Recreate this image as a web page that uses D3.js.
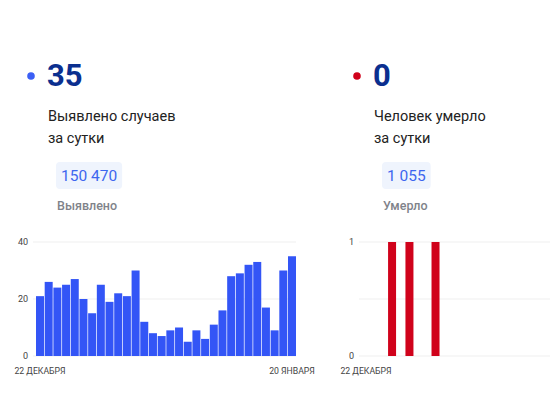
<!DOCTYPE html>
<html>
<head>
<meta charset="utf-8">
<script src="https://cdn.jsdelivr.net/npm/d3@7"></script>
<style>
  html, body { margin: 0; padding: 0; background: #fff; overflow: hidden; }
  svg { display: block; font-family: Roboto, "Noto Sans", sans-serif; }
</style>
</head>
<body>
<div id="chart"></div>
<script>
// Daily values, 22 Dec .. 20 Jan
const days = d3.range(30);
const caseValues = [21, 26, 24, 25, 27, 20, 15, 25, 19, 22, 21, 30, 12, 8, 7,
                    9, 10, 5, 9, 6, 11, 16, 28, 29, 32, 33, 17, 9, 30, 35];
const deathValues = [0, 0, 0, 1, 0, 1, 0, 0, 1, 0, 0, 0, 0, 0, 0,
                     0, 0, 0, 0, 0, 0, 0, 0, 0, 0, 0, 0, 0, 0, 0];
const dateLabels = ['22 ДЕКАБРЯ', '20 ЯНВАРЯ'];

const panels = [
    {
        offset: 0, dot: '#3b5ff5', today: '35',
        caption: ['Выявлено случаев', 'за сутки'],
        total: '150 470', totalLabel: 'Выявлено',
        values: caseValues, yMax: 40, ticks: [0, 20, 40], labelled: [0, 20, 40],
        bar: '#3355f6', dates: [days[0], days[days.length - 1]]
    },
    {
        // right panel runs past the page edge, only its first date shows
        offset: 326, dot: '#d0021b', today: '0',
        caption: ['Человек умерло', 'за сутки'],
        total: '1 055', totalLabel: 'Умерло',
        values: deathValues, yMax: 1, ticks: [0, 0.5, 1], labelled: [0, 1],
        bar: '#d0021b', dates: [days[0]]
    }
];

const W = 550, H = 412;
const svg = d3.select('#chart').append('svg')
    .attr('width', W)
    .attr('height', H);

const plot = {left: 36, right: 296, top: 242, bottom: 356};

panels.forEach(p => {
    const g = svg.append('g').attr('transform', `translate(${p.offset},0)`);

    // Header
    g.append('circle')
        .attr('cx', 31).attr('cy', 76).attr('r', 3.8)
        .attr('fill', p.dot);

    g.append('text')
        .attr('x', 47).attr('y', 86)
        .style('font-size', '31px')
        .style('font-weight', 'bold')
        .style('fill', '#0b2f8f')
        .text(p.today);

    g.selectAll('text.caption')
        .data(p.caption)
      .enter().append('text')
        .attr('class', 'caption')
        .attr('x', 48)
        .attr('y', (d, i) => 121 + i * 22)
        .style('font-size', '14.5px')
        .style('fill', '#222')
        .text(d => d);

    const pill = g.append('text')
        .attr('x', 61).attr('y', 181)
        .style('font-size', '15.5px')
        .style('fill', '#3d66ef')
        .text(p.total);
    const bw = pill.node().getComputedTextLength();
    g.insert('rect', 'text')
        .attr('x', 56).attr('y', 162)
        .attr('width', bw + 10).attr('height', 27)
        .attr('rx', 4)
        .attr('fill', '#eff4fd');

    g.append('text')
        .attr('x', 57).attr('y', 210)
        .style('font-size', '12.5px')
        .style('font-weight', '500')
        .style('fill', '#80838a')
        .text(p.totalLabel);

    // Chart
    const x = d3.scaleBand()
        .domain(days)
        .range([plot.left, plot.right])
        .paddingInner(0.08);

    const y = d3.scaleLinear()
        .domain([0, p.yMax])
        .range([plot.bottom, plot.top]);

    g.append('g')
        .selectAll('line')
        .data(p.ticks)
      .enter().append('line')
        .attr('x1', plot.left - 3)
        .attr('x2', p.offset ? W - p.offset : plot.right)
        .attr('y1', d => y(d))
        .attr('y2', d => y(d))
        .attr('stroke', '#efefef')
        .attr('stroke-width', 1);

    const yAxis = g.append('g')
        .attr('transform', `translate(${plot.left - 8},0)`)
        .call(d3.axisLeft(y).tickValues(p.labelled).tickSize(0).tickFormat(d3.format('d')));
    yAxis.select('.domain').remove();
    yAxis.selectAll('text')
        .attr('x', 0)
        .style('font-size', '9px')
        .style('font-family', 'Roboto, sans-serif')
        .style('fill', '#444');

    g.append('g')
        .selectAll('rect')
        .data(p.values)
      .enter().append('rect')
        .attr('x', (d, i) => x(i))
        .attr('y', d => y(d))
        .attr('width', x.bandwidth())
        .attr('height', d => y(0) - y(d))
        .attr('fill', p.bar);

    // Date labels under first and last bar
    const xAxis = g.append('g')
        .attr('transform', `translate(0,${plot.bottom + 9})`)
        .call(d3.axisBottom(x)
            .tickValues(p.dates)
            .tickSize(0)
            .tickFormat((d, i) => dateLabels[i]));
    xAxis.select('.domain').remove();
    xAxis.selectAll('text')
        .style('font-size', '8.7px')
        .style('font-family', 'Roboto, sans-serif')
        .style('fill', '#444');
});
</script>
</body>
</html>
